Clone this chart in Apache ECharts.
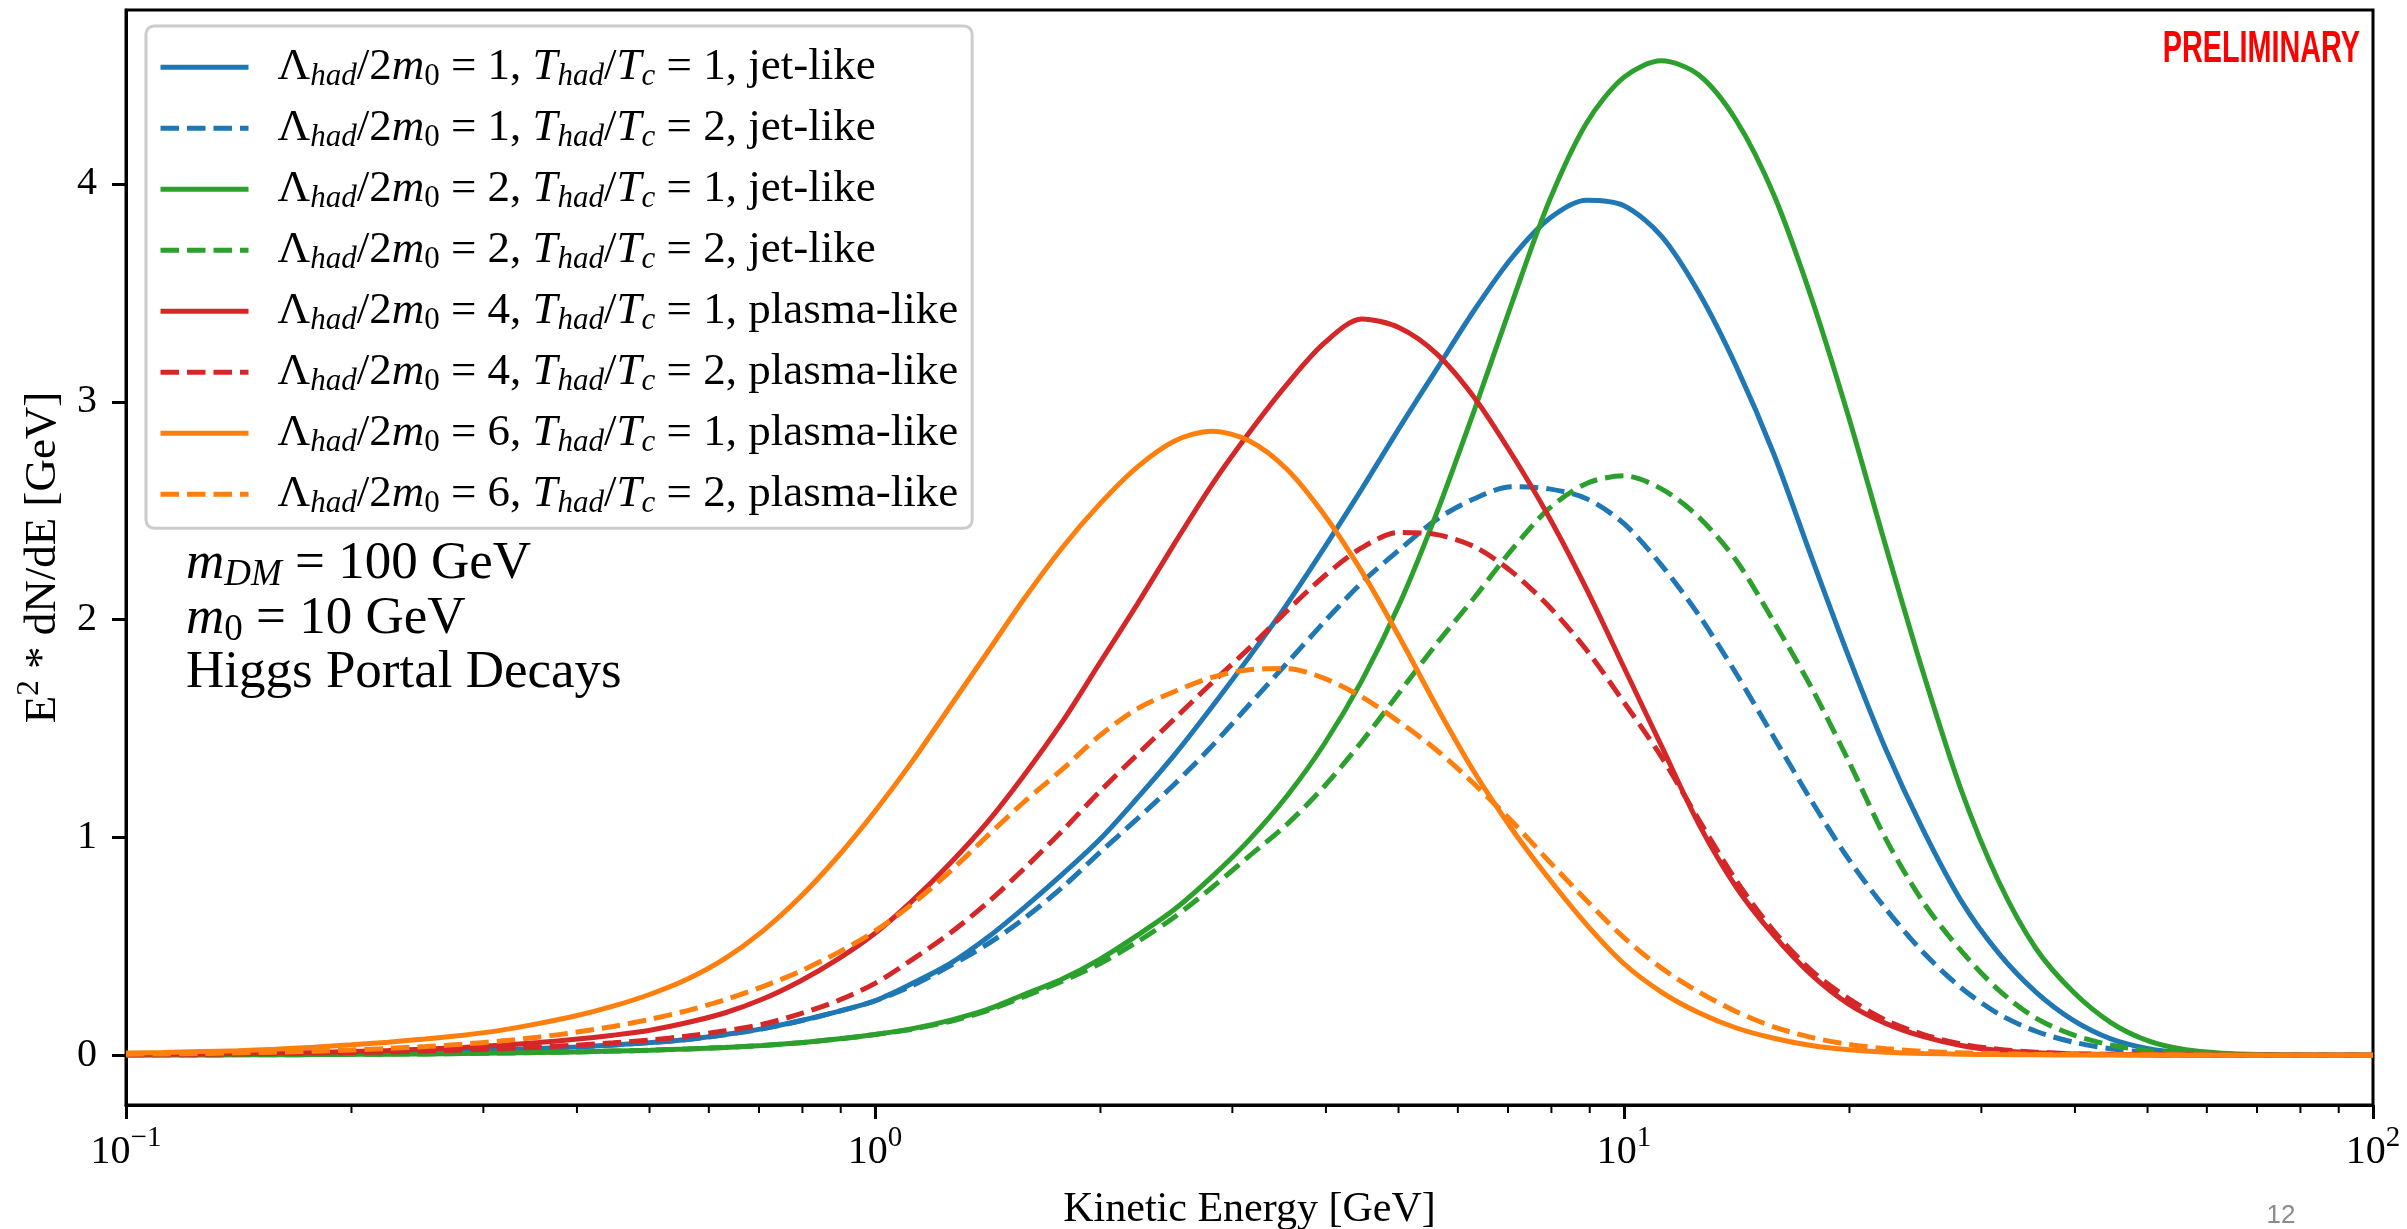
<!DOCTYPE html>
<html>
<head>
<meta charset="utf-8">
<script src="https://cdn.jsdelivr.net/npm/echarts@6/dist/echarts.min.js"></script>
<style>html,body{margin:0;padding:0;background:#fff}#c{width:2407px;height:1229px}</style>
</head>
<body>
<div id="c"></div>
<script>
// ---------- data (20 samples per decade) ----------
const energy = [0.1, 0.112, 0.126, 0.141, 0.158, 0.178, 0.2, 0.224, 0.251, 0.282,
  0.316, 0.355, 0.398, 0.447, 0.501, 0.562, 0.631, 0.708, 0.794, 0.891,
  1, 1.122, 1.259, 1.413, 1.585, 1.778, 1.995, 2.239, 2.512, 2.818,
  3.162, 3.548, 3.981, 4.467, 5.012, 5.623, 6.31, 7.079, 7.943, 8.913,
  10, 11.22, 12.59, 14.13, 15.85, 17.78, 19.95, 22.39, 25.12, 28.18,
  31.62, 35.48, 39.81, 44.67, 50.12, 56.23, 63.1, 70.79, 79.43, 89.13, 100];

const blueSolid = [0.002, 0.003, 0.004, 0.005, 0.007, 0.009, 0.011, 0.014, 0.018, 0.022,
  0.026, 0.031, 0.038, 0.047, 0.058, 0.072, 0.095, 0.122, 0.158, 0.20,
  0.25, 0.33, 0.42, 0.54, 0.68, 0.83, 0.99, 1.18, 1.38, 1.60,
  1.83, 2.07, 2.33, 2.60, 2.88, 3.15, 3.42, 3.66, 3.84, 3.925,
  3.90, 3.76, 3.50, 3.16, 2.76, 2.29, 1.83, 1.40, 1.03, 0.71,
  0.47, 0.29, 0.16, 0.075, 0.03, 0.01, 0.003, 0.001, 0, 0, 0];
const blueDashed = [0.002, 0.003, 0.004, 0.005, 0.007, 0.009, 0.011, 0.014, 0.018, 0.022,
  0.026, 0.031, 0.038, 0.047, 0.058, 0.072, 0.094, 0.121, 0.157, 0.20,
  0.25, 0.32, 0.41, 0.51, 0.63, 0.77, 0.93, 1.085, 1.245, 1.42,
  1.61, 1.80, 1.99, 2.17, 2.32, 2.46, 2.555, 2.61, 2.60, 2.555,
  2.44, 2.25, 2.02, 1.75, 1.46, 1.17, 0.90, 0.67, 0.47, 0.31,
  0.19, 0.11, 0.06, 0.03, 0.013, 0.005, 0.002, 0.001, 0, 0, 0];
const greenSolid = [0.001, 0.001, 0.001, 0.002, 0.002, 0.003, 0.004, 0.005, 0.006, 0.008,
  0.010, 0.012, 0.015, 0.019, 0.023, 0.029, 0.036, 0.045, 0.057, 0.074,
  0.095, 0.122, 0.16, 0.21, 0.28, 0.35, 0.44, 0.55, 0.67, 0.82,
  0.99, 1.19, 1.43, 1.72, 2.07, 2.49, 2.96, 3.45, 3.92, 4.28,
  4.49, 4.565, 4.50, 4.29, 3.95, 3.48, 2.93, 2.33, 1.75, 1.22,
  0.80, 0.49, 0.29, 0.15, 0.066, 0.025, 0.009, 0.003, 0.001, 0, 0];
const greenDashed = [0.001, 0.001, 0.001, 0.002, 0.002, 0.003, 0.004, 0.005, 0.006, 0.008,
  0.010, 0.012, 0.015, 0.019, 0.023, 0.029, 0.036, 0.045, 0.057, 0.074,
  0.095, 0.12, 0.155, 0.205, 0.27, 0.34, 0.42, 0.52, 0.635, 0.77,
  0.915, 1.06, 1.235, 1.44, 1.665, 1.89, 2.10, 2.32, 2.51, 2.625,
  2.66, 2.60, 2.47, 2.27, 1.99, 1.69, 1.35, 0.99, 0.70, 0.48,
  0.30, 0.17, 0.093, 0.047, 0.021, 0.008, 0.003, 0.001, 0, 0, 0];
const redSolid = [0.004, 0.005, 0.006, 0.008, 0.010, 0.013, 0.017, 0.022, 0.028, 0.036,
  0.046, 0.058, 0.073, 0.092, 0.115, 0.150, 0.195, 0.258, 0.340, 0.44,
  0.56, 0.71, 0.88, 1.07, 1.29, 1.53, 1.80, 2.07, 2.35, 2.62,
  2.86, 3.08, 3.27, 3.38, 3.34, 3.22, 3.02, 2.76, 2.47, 2.14,
  1.78, 1.42, 1.06, 0.77, 0.55, 0.37, 0.235, 0.145, 0.085, 0.045,
  0.022, 0.011, 0.006, 0.003, 0.002, 0.001, 0, 0, 0, 0, 0];
const redDashed = [0.003, 0.004, 0.005, 0.006, 0.008, 0.010, 0.012, 0.015, 0.019, 0.024,
  0.030, 0.037, 0.046, 0.057, 0.070, 0.088, 0.112, 0.142, 0.19, 0.25,
  0.33, 0.44, 0.56, 0.70, 0.86, 1.03, 1.21, 1.38, 1.545, 1.71,
  1.87, 2.04, 2.20, 2.33, 2.40, 2.39, 2.335, 2.22, 2.06, 1.86,
  1.62, 1.37, 1.08, 0.80, 0.57, 0.39, 0.26, 0.16, 0.095, 0.052,
  0.027, 0.014, 0.007, 0.004, 0.002, 0.001, 0, 0, 0, 0, 0];
const orangeSolid = [0.010, 0.013, 0.017, 0.021, 0.028, 0.037, 0.048, 0.060, 0.075, 0.092,
  0.114, 0.145, 0.180, 0.225, 0.280, 0.350, 0.445, 0.570, 0.725, 0.910,
  1.12, 1.35, 1.60, 1.85, 2.10, 2.33, 2.53, 2.70, 2.82, 2.865,
  2.82, 2.69, 2.48, 2.22, 1.92, 1.60, 1.30, 1.04, 0.81, 0.60,
  0.42, 0.29, 0.195, 0.125, 0.078, 0.045, 0.025, 0.014, 0.008, 0.005,
  0.003, 0.002, 0.001, 0.001, 0.001, 0, 0, 0, 0, 0, 0];
const orangeDashed = [0.005, 0.006, 0.008, 0.011, 0.014, 0.018, 0.024, 0.031, 0.040, 0.051,
  0.065, 0.083, 0.105, 0.132, 0.165, 0.205, 0.255, 0.315, 0.385, 0.47,
  0.57, 0.695, 0.843, 1.007, 1.166, 1.312, 1.467, 1.59, 1.67, 1.735,
  1.77, 1.775, 1.73, 1.645, 1.53, 1.40, 1.245, 1.075, 0.89, 0.71,
  0.54, 0.40, 0.29, 0.20, 0.13, 0.082, 0.050, 0.030, 0.018, 0.011,
  0.007, 0.004, 0.003, 0.002, 0.001, 0.001, 0, 0, 0, 0, 0];

const lambdaRatio = [1, 1, 2, 2, 4, 4, 6, 6];
const tempRatio   = [1, 2, 1, 2, 1, 2, 1, 2];
const regime      = ['jet-like', 'jet-like', 'jet-like', 'jet-like', 'plasma-like', 'plasma-like', 'plasma-like', 'plasma-like'];
const seriesNames = lambdaRatio.map((l, i) => 'Λhad/2m0 = ' + l + ', Thad/Tc = ' + tempRatio[i] + ', ' + regime[i]);

const yTicks = [0, 1, 2, 3, 4];
const xMinorTicks = [0.2, 0.3, 0.4, 0.5, 0.6, 0.7, 0.8, 0.9, 2, 3, 4, 5, 6, 7, 8, 9, 20, 30, 40, 50, 60, 70, 80, 90];
const Y_MIN = -0.2285, Y_MAX = 4.7985;

const annotationLines = ['{i|m}{si|DM}{n| = 100 GeV}', '{i|m}{s|0}{n| = 10 GeV}', '{n|Higgs Portal Decays}'];

// ---------- styling ----------
const SERIF = "'Liberation Serif', 'Times New Roman', serif";
const SANS = "'Liberation Sans', Arial, sans-serif";
const colors = ['#1f77b4', '#1f77b4', '#2ca02c', '#2ca02c', '#d62728', '#d62728', '#ff7f0e', '#ff7f0e'];
const dashed = [false, true, false, true, false, true, false, true];
const dataSets = [blueSolid, blueDashed, greenSolid, greenDashed, redSolid, redDashed, orangeSolid, orangeDashed];
const LW = 5;
const DASH = [18.5, 8];

function legendLabel(i) {
  return '{n|Λ}{si|had}{n|/2}{i|m}{s|0}{n| = ' + lambdaRatio[i] + ', }{i|T}{si|had}{n|/}{i|T}{si|c}{n| = ' +
    tempRatio[i] + ', ' + regime[i] + '}';
}

const LF = 45, LS = 31;
const legendRich = {
  n:  {fontFamily: SERIF, fontSize: LF, color: '#000', lineHeight: 50},
  i:  {fontFamily: SERIF, fontSize: LF, fontStyle: 'italic', color: '#000', lineHeight: 50},
  s:  {fontFamily: SERIF, fontSize: LS, color: '#000', lineHeight: 26, verticalAlign: 'bottom'},
  si: {fontFamily: SERIF, fontSize: LS, fontStyle: 'italic', color: '#000', lineHeight: 26, verticalAlign: 'bottom'}
};

const AF = 53, AS = 37;
const annRich = {
  n:  {fontFamily: SERIF, fontSize: AF, fill: '#000', lineHeight: 60},
  i:  {fontFamily: SERIF, fontSize: AF, fontStyle: 'italic', fill: '#000', lineHeight: 60},
  s:  {fontFamily: SERIF, fontSize: AS, fill: '#000', lineHeight: 30, verticalAlign: 'bottom'},
  si: {fontFamily: SERIF, fontSize: AS, fontStyle: 'italic', fill: '#000', lineHeight: 30, verticalAlign: 'bottom'}
};

const lineSeries = dataSets.map((d, k) => ({
  type: 'line',
  name: seriesNames[k],
  data: energy.map((e, j) => [e, d[j]]),
  symbol: 'none',
  showSymbol: false,
  smooth: 0.3,
  z: 2 + k,
  itemStyle: {color: colors[k]},
  lineStyle: {width: LW, color: colors[k], type: dashed[k] ? DASH : 'solid', cap: 'butt'},
  emphasis: {disabled: true}
}));

const minorTickSeries = {
  type: 'custom',
  name: 'minorTicks',
  silent: true,
  clip: false,
  z: 1,
  data: xMinorTicks.map(v => [v, Y_MIN]),
  encode: {x: 0, y: 1},
  renderItem: (params, api) => {
    const p = api.coord([api.value(0), api.value(1)]);
    return {type: 'line', shape: {x1: p[0], y1: p[1], x2: p[0], y2: p[1] + 8},
            style: {stroke: '#000', lineWidth: 2}};
  }
};

const chart = echarts.init(document.getElementById('c'), null, {renderer: 'canvas', width: 2407, height: 1229});

const option = {
  animation: false,
  backgroundColor: '#ffffff',
  grid: {left: 126, right: 34, top: 10, bottom: 124, containLabel: false, outerBoundsMode: 'none',
         show: true, borderColor: '#000', borderWidth: 3, backgroundColor: 'transparent'},
  xAxis: {
    type: 'log', logBase: 10, min: 0.1, max: 100,
    axisLine: {show: true, onZero: false, lineStyle: {color: '#000', width: 3}},
    axisTick: {show: true, length: 14, lineStyle: {color: '#000', width: 3}},
    minorTick: {show: false},
    splitLine: {show: false},
    axisLabel: {
      margin: 19,
      formatter: v => {
        const e = Math.round(Math.log10(v));
        return '{b|10}{e|' + (e < 0 ? '−' + (-e) : e) + '}';
      },
      rich: {
        b: {fontFamily: SERIF, fontSize: 40, color: '#000', lineHeight: 48, verticalAlign: 'bottom'},
        e: {fontFamily: SERIF, fontSize: 29, color: '#000', lineHeight: 28, verticalAlign: 'top'}
      }
    },
    name: 'Kinetic Energy [GeV]',
    nameLocation: 'middle',
    nameGap: 84,
    nameTextStyle: {fontFamily: SERIF, fontSize: 42, color: '#000'}
  },
  yAxis: {
    type: 'value', min: Y_MIN, max: Y_MAX,
    axisLine: {show: true, onZero: false, lineStyle: {color: '#000', width: 3}},
    axisTick: {show: true, length: 14, customValues: yTicks, lineStyle: {color: '#000', width: 3}},
    splitLine: {show: false},
    axisLabel: {customValues: yTicks, margin: 29, fontFamily: SERIF, fontSize: 40, color: '#000'},
    name: '{n|E}{sup|2}{n| * dN/dE [GeV]}',
    nameLocation: 'middle',
    nameRotate: 90,
    nameGap: 56,
    nameTextStyle: {
      rich: {
        n: {fontFamily: SERIF, fontSize: 45, color: '#000', lineHeight: 52, verticalAlign: 'bottom'},
        sup: {fontFamily: SERIF, fontSize: 31, color: '#000', lineHeight: 32, verticalAlign: 'top'}
      }
    }
  },
  legend: {
    data: seriesNames,
    orient: 'vertical',
    left: 146, top: 26,
    itemWidth: 88, itemHeight: 14, itemGap: 13.5,
    padding: [18.7, 14, 9, 12],
    backgroundColor: 'rgba(255,255,255,0.8)',
    borderColor: '#cccccc', borderWidth: 3, borderRadius: 8,
    selectedMode: false,
    lineStyle: {width: LW},
    itemStyle: {opacity: 0},
    formatter: name => legendLabel(seriesNames.indexOf(name)),
    textStyle: {padding: [0, 0, 0, 24], rich: legendRich}
  },
  graphic: [
    {type: 'text', x: 2360, y: 50, z: 100, scaleX: 0.654,
     style: {text: 'PRELIMINARY', fill: '#ff0000', font: 'bold 44px ' + SANS, align: 'right', verticalAlign: 'middle'}},
    {type: 'text', x: 186, y: 564, z: 100,
     style: {text: annotationLines[0], rich: annRich, fill: '#000', verticalAlign: 'middle'}},
    {type: 'text', x: 186, y: 619, z: 100,
     style: {text: annotationLines[1], rich: annRich, fill: '#000', verticalAlign: 'middle'}},
    {type: 'text', x: 186, y: 673, z: 100,
     style: {text: annotationLines[2], rich: annRich, fill: '#000', verticalAlign: 'middle'}},
    {type: 'text', x: 2281, y: 1216, z: 100,
     style: {text: '12', fill: '#8c8c8c', font: '26px ' + SANS, align: 'center', verticalAlign: 'middle'}}
  ],
  series: lineSeries.concat([minorTickSeries])
};

chart.setOption(option);
</script>
</body>
</html>
